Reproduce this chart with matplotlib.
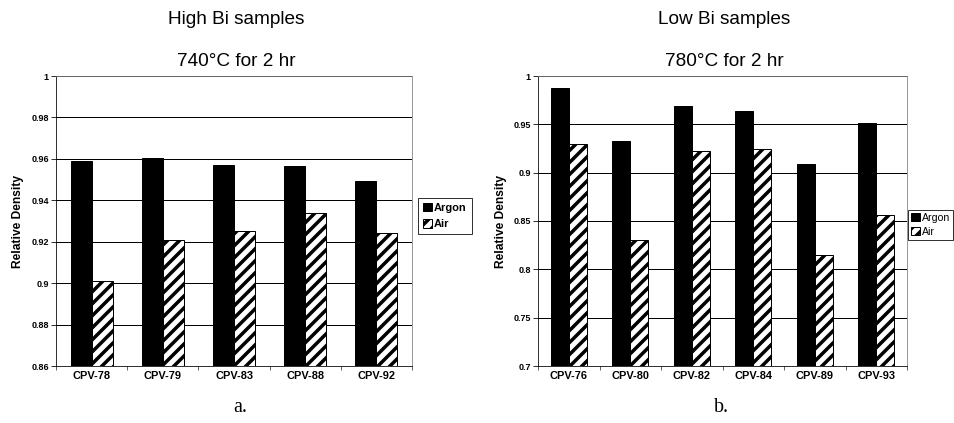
import numpy as np
import matplotlib
matplotlib.use("Agg")
from matplotlib import pyplot as plt

# 高Bi样品 740°C 2小时
high_names = ["CPV-78", "CPV-79", "CPV-83", "CPV-88", "CPV-92"]
high_argon = [0.959, 0.9605, 0.957, 0.9565, 0.9495]
high_air = [0.901, 0.9207, 0.925, 0.934, 0.924]

# 低Bi样品 780°C 2小时
low_names = ["CPV-76", "CPV-80", "CPV-82", "CPV-84", "CPV-89", "CPV-93"]
low_argon = [0.988, 0.933, 0.969, 0.964, 0.909, 0.951]
low_air = [0.930, 0.830, 0.922, 0.925, 0.815, 0.856]

plt.rcParams["font.family"] = ["Liberation Sans", "DejaVu Sans"]
plt.rcParams["hatch.linewidth"] = 3.5
plt.rcParams["hatch.color"] = "black"

fig = plt.figure(figsize=(954 / 72, 423 / 72), dpi=72)


def draw(rect, names, argon, air, ylim, step, w):
    ax = fig.add_axes(rect)
    x = np.arange(len(names))
    ax.bar(x - w / 2, argon, w, color="black", edgecolor="black", label="Argon", zorder=3)
    ax.bar(x + w / 2, air, w, color="white", edgecolor="black", hatch="//",
           linewidth=1, label="Air", zorder=3)
    ax.set_ylim(*ylim)
    ax.set_xlim(-0.5, len(names) - 0.5)
    yt = np.arange(ylim[0], ylim[1] + step / 2, step)
    ax.set_yticks(yt)
    ax.set_yticklabels(["%g" % round(v, 3) for v in yt], fontsize=9, fontweight="bold")
    ax.set_xticks(x)
    ax.set_xticklabels(names, fontsize=11, fontweight="bold")
    ax.set_xticks(np.arange(len(names) + 1) - 0.5, minor=True)
    ax.tick_params(axis="x", which="major", length=0, pad=5)
    ax.tick_params(axis="x", which="minor", length=4, direction="out")
    ax.tick_params(axis="y", length=5, direction="out", pad=2)
    ax.grid(axis="y", color="black", linewidth=1, zorder=1)
    ax.set_axisbelow(True)
    ax.spines["top"].set_color("#808080")
    ax.spines["right"].set_color("#808080")
    ax.set_ylabel("Relative Density", fontsize=12, fontweight="bold", labelpad=7)
    return ax


ax1 = draw([56 / 954, 57 / 423, 356 / 954, 290 / 423], high_names, high_argon, high_air,
           (0.86, 1.0), 0.02, 0.295)
ax2 = draw([538 / 954, 57 / 423, 369 / 954, 290 / 423], low_names, low_argon, low_air,
           (0.7, 1.0), 0.05, 0.29)

leg1 = fig.legend(*ax1.get_legend_handles_labels(), loc="center left",
                  bbox_to_anchor=(418 / 954, 1 - 216 / 423), prop={"size": 11, "weight": "bold"},
                  frameon=True, fancybox=False, handlelength=0.8, handleheight=0.8,
                  handletextpad=0.2, borderpad=0.45, labelspacing=0.6, borderaxespad=0)
leg1.get_frame().set_edgecolor("black")
leg1.get_frame().set_linewidth(1)

# 右侧图例贴近画布右边缘
leg2 = fig.legend(*ax2.get_legend_handles_labels(), loc="center right",
                  bbox_to_anchor=(953 / 954, 1 - 225 / 423), prop={"size": 10.5},
                  frameon=True, fancybox=False, handlelength=0.8, handleheight=0.8,
                  handletextpad=0.2, borderpad=0.3, labelspacing=0.4, borderaxespad=0)
leg2.get_frame().set_edgecolor("black")
leg2.get_frame().set_linewidth(1)

fig.text(236 / 954, 1 - 20 / 423, "High Bi samples", ha="center", va="center", fontsize=19)
fig.text(236 / 954, 1 - 61 / 423, "740°C for 2 hr", ha="center", va="center", fontsize=19)
fig.text(724 / 954, 1 - 20 / 423, "Low Bi samples", ha="center", va="center", fontsize=19)
fig.text(724 / 954, 1 - 61 / 423, "780°C for 2 hr", ha="center", va="center", fontsize=19)

fig.text(240 / 954, 1 - 407 / 423, "a.", ha="center", va="center", fontsize=20,
         family="Liberation Serif")
fig.text(722 / 954, 1 - 407 / 423, "b.", ha="center", va="center", fontsize=20,
         family="Liberation Serif")

fig.savefig("out.png", dpi=72, facecolor="white")
